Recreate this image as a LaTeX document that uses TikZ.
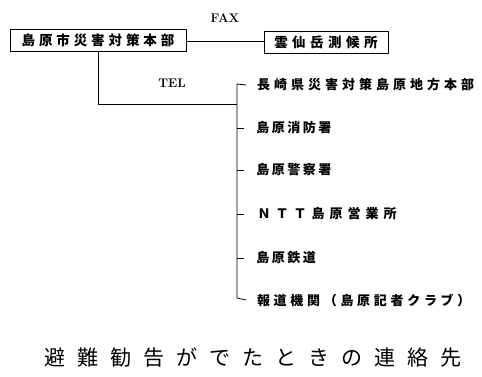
\documentclass[tikz,border=0pt]{standalone}
\usepackage{fontspec}
\newfontfamily\cjk{Noto Sans CJK JP}
\ExplSyntaxOn
\NewDocumentCommand\spaced{mm}{\tl_map_inline:nn{#2}{\makebox[#1]{##1}}}
\ExplSyntaxOff
\begin{document}
\begin{tikzpicture}[x={(1pt,0)},y={(0,-1pt)},
  line/.style={draw=black,line width=0.8pt},
  box/.style={draw=black,line width=0.9pt,inner sep=0pt,font=\cjk\bfseries\fontsize{13.5}{14}\selectfont},
  item/.style={anchor=west,inner sep=0pt,font=\cjk\bfseries\fontsize{13}{14}\selectfont},
  lbl/.style={inner sep=0pt,font=\fontsize{12.5}{13}\selectfont\bfseries}]
\useasboundingbox (0,0) rectangle (482,377);
\node[box,minimum width=176pt,minimum height=22pt] (hq) at (98,40) {\spaced{17.4pt}{島原市災害対策本部}};
\node[box,minimum width=124pt,minimum height=22pt] (obs) at (326,42) {\spaced{18pt}{雲仙岳測候所}};
\node[lbl] (fax) at (225,18) {FAX};
\node[lbl] (tel) at (172,83) {TEL};
\draw[line] (hq.east |- 0,41) -- (obs.west |- 0,41);
\coordinate (j) at (237,104);
\coordinate (top) at (237,84);
\coordinate (bot) at (237,298);
\draw[line] (hq.south) |- (j);
\node[item] (i1) at (255,85) {\spaced{17pt}{長崎県災害対策島原地方本部}};
\node[item] (i2) at (255,128) {\spaced{15.5pt}{島原消防署}};
\node[item] (i3) at (255,170) {\spaced{15.5pt}{島原警察署}};
\node[item] (i4) at (255,214) {\spaced{18pt}{ＮＴＴ島原営業所}};
\node[item] (i5) at (255,258) {\spaced{15.5pt}{島原鉄道}};
\node[item] (i6) at (255,300) {\spaced{16.7pt}{報道機関（島原記者クラブ）}};
\draw[line] (i1.west -| 246,0) -- (top) -- (bot) -- (i6.west -| 246,0);
\foreach \n in {i2,i3,i4,i5} \draw[line] (\n.west -| 237,0) -- (\n.west -| 244,0);
\node[inner sep=0pt,font=\cjk\fontsize{21}{22}\selectfont] (cap) at (253,358) {\spaced{33pt}{避難勧告がでたときの連絡先}};
\end{tikzpicture}
\end{document}
